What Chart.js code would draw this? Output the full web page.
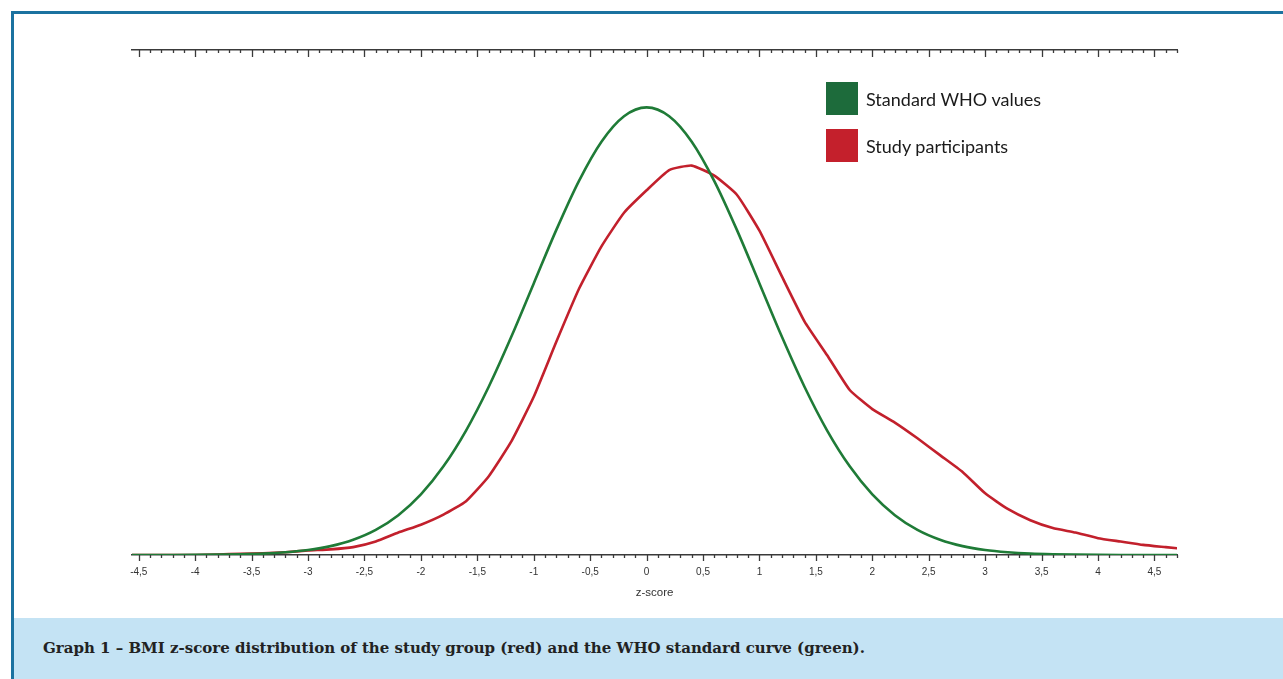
<!DOCTYPE html>
<html>
<head>
<meta charset="utf-8">
<title>BMI z-score distribution</title>
<script src="https://cdn.jsdelivr.net/npm/chart.js@4.4.1/dist/chart.umd.min.js"></script>
<style>
  body { margin: 0; background: #fff; width: 1283px; height: 679px; overflow: hidden; position: relative; }
  #frame { position: absolute; left: 11px; top: 11px; right: 0; bottom: 0; border-top: 3px solid #1b72a0; border-left: 3px solid #1b72a0; }
  #chart { position: absolute; left: 0; top: 0; }
  #caption { position: absolute; left: 14px; top: 618px; right: 0; bottom: 0; background: #c4e3f4;
             padding-left: 29px; font: bold 15px 'DejaVu Serif', serif; line-height: 61px; color: #222; white-space: nowrap; }
  #legend { position: absolute; left: 826px; top: 82px; }
  .item { display: flex; align-items: center; height: 33px; margin-bottom: 14px; }
  .swatch { width: 32px; height: 33px; margin-right: 8px; }
  .item span { font: 18px Lato, sans-serif; color: #1a1a1a; }
</style>
</head>
<body>
<div id="frame"></div>
<canvas id="chart" width="1283" height="618"></canvas>
<div id="legend"></div>
<div id="caption">Graph 1 – BMI z-score distribution of the study group (red) and the WHO standard curve (green).</div>
<script>
// z-score grid (step 0.2)
var zGrid = [-4.6, -4.4, -4.2, -4.0, -3.8, -3.6, -3.4, -3.2, -3.0, -2.8, -2.6, -2.4, -2.2, -2.0, -1.8, -1.6,
             -1.4, -1.2, -1.0, -0.8, -0.6, -0.4, -0.2, 0, 0.2, 0.4, 0.6, 0.8, 1.0, 1.2, 1.4, 1.6,
             1.8, 2.0, 2.2, 2.4, 2.6, 2.8, 3.0, 3.2, 3.4, 3.6, 3.8, 4.0, 4.2, 4.4, 4.6, 4.8];

// curva estándar OMS (verde)
var whoDensity = [0, 0, 0, 0.0001, 0.0003, 0.0006, 0.0012, 0.0024, 0.0044, 0.0079, 0.0136, 0.0224, 0.0355, 0.054, 0.079, 0.1109,
                  0.1497, 0.1942, 0.242, 0.2897, 0.3332, 0.3683, 0.391, 0.3989, 0.391, 0.3683, 0.3332, 0.2897, 0.242, 0.1942, 0.1497, 0.1109,
                  0.079, 0.054, 0.0355, 0.0224, 0.0136, 0.0079, 0.0044, 0.0024, 0.0012, 0.0006, 0.0003, 0.0001, 0, 0, 0, 0];

// participantes del estudio (rojo)
var studyDensity = [0, 0, 0, 0, 0.0005, 0.001, 0.0015, 0.0025, 0.004, 0.005, 0.007, 0.012, 0.02, 0.027, 0.036, 0.048,
                    0.07, 0.101, 0.141, 0.19, 0.237, 0.275, 0.305, 0.325, 0.343, 0.347, 0.338, 0.321, 0.289, 0.248, 0.208, 0.178,
                    0.147, 0.13, 0.118, 0.104, 0.089, 0.074, 0.055, 0.041, 0.031, 0.024, 0.02, 0.015, 0.012, 0.009, 0.007, 0.005];

// ejes
var majorTicks = [-4.5, -4, -3.5, -3, -2.5, -2, -1.5, -1, -0.5, 0, 0.5, 1, 1.5, 2, 2.5, 3, 3.5, 4, 4.5];
var tickLabels = ["-4,5", "-4", "-3,5", "-3", "-2,5", "-2", "-1,5", "-1", "-0,5", "0", "0,5", "1", "1,5", "2", "2,5", "3", "3,5", "4", "4,5"];
var minorStep = 0.1;
var xMin = -4.56, xMax = 4.70;

function toPoints(ys) {
    return zGrid.map(function(z, i) { return { x: z, y: ys[i] }; });
}

// marcas de eje arriba y abajo (mayores y menores)
var tickMarks = {
    id: "tickMarks",
    afterDraw: function(chart) {
        var ctx = chart.ctx, scale = chart.scales.x, area = chart.chartArea;
        ctx.save();
        ctx.strokeStyle = "#3a3a3a";
        ctx.lineWidth = 1.3;
        for (var i = 0; Math.round((-4.5 + i * minorStep) * 10) / 10 <= xMax; i++) {
            var v = Math.round((-4.5 + i * minorStep) * 10) / 10;
            var major = i % 5 === 0;
            var px = Math.round(scale.getPixelForValue(v)) + 0.5;
            ctx.beginPath();
            ctx.moveTo(px, area.bottom);
            ctx.lineTo(px, area.bottom + (major ? 6 : 3));
            ctx.moveTo(px, area.top);
            ctx.lineTo(px, area.top + (major ? 7 : 3));
            ctx.stroke();
        }
        ctx.restore();
    }
};

var ctx = document.getElementById("chart").getContext("2d");
var chart = new Chart(ctx, {
    type: "line",
    data: {
        datasets: [{
            label: "Standard WHO values",
            data: toPoints(whoDensity),
            borderColor: "#1f7b37",
            backgroundColor: "#1d6b3b",
            borderWidth: 2.6,
            pointRadius: 0,
            cubicInterpolationMode: "monotone"
        }, {
            label: "Study participants",
            data: toPoints(studyDensity),
            borderColor: "#c2202c",
            backgroundColor: "#c4202c",
            borderWidth: 2.6,
            pointRadius: 0,
            tension: 0.15
        }]
    },
    options: {
        responsive: false,
        animation: false,
        layout: { padding: { left: 132, right: 106, top: 50, bottom: 18 } },
        plugins: { legend: { display: false }, tooltip: { enabled: false } },
        scales: {
            x: {
                type: "linear",
                min: xMin,
                max: xMax,
                afterBuildTicks: function(scale) {
                    scale.ticks = majorTicks.map(function(v) { return { value: v }; });
                },
                afterFit: function(scale) { scale.height = 45; },
                grid: { drawOnChartArea: false, drawTicks: false },
                border: { display: true, color: "#3a3a3a", width: 1.5 },
                ticks: {
                    autoSkip: false,
                    maxRotation: 0,
                    padding: 11,
                    color: "#333",
                    font: { family: "'Liberation Sans', Arial, sans-serif", size: 10 },
                    callback: function(value, index) { return tickLabels[index]; }
                },
                title: {
                    display: true,
                    text: "z-score",
                    color: "#333",
                    padding: { top: 7, bottom: 0 },
                    font: { family: "'Liberation Sans', Arial, sans-serif", size: 11.5 }
                }
            },
            xTop: {
                type: "linear",
                position: "top",
                min: xMin,
                max: xMax,
                grid: { drawOnChartArea: false, drawTicks: false },
                border: { display: true, color: "#3a3a3a", width: 1.5 },
                ticks: { display: false }
            },
            y: {
                display: false,
                min: 0,
                max: 0.45
            }
        }
    },
    plugins: [tickMarks]
});

// leyenda en HTML a partir de los datasets
var legend = document.getElementById("legend");
chart.data.datasets.forEach(function(ds) {
    var item = document.createElement("div");
    item.className = "item";
    item.innerHTML = '<div class="swatch" style="background:' + ds.backgroundColor + '"></div><span>' + ds.label + '</span>';
    legend.appendChild(item);
});
</script>
</body>
</html>
